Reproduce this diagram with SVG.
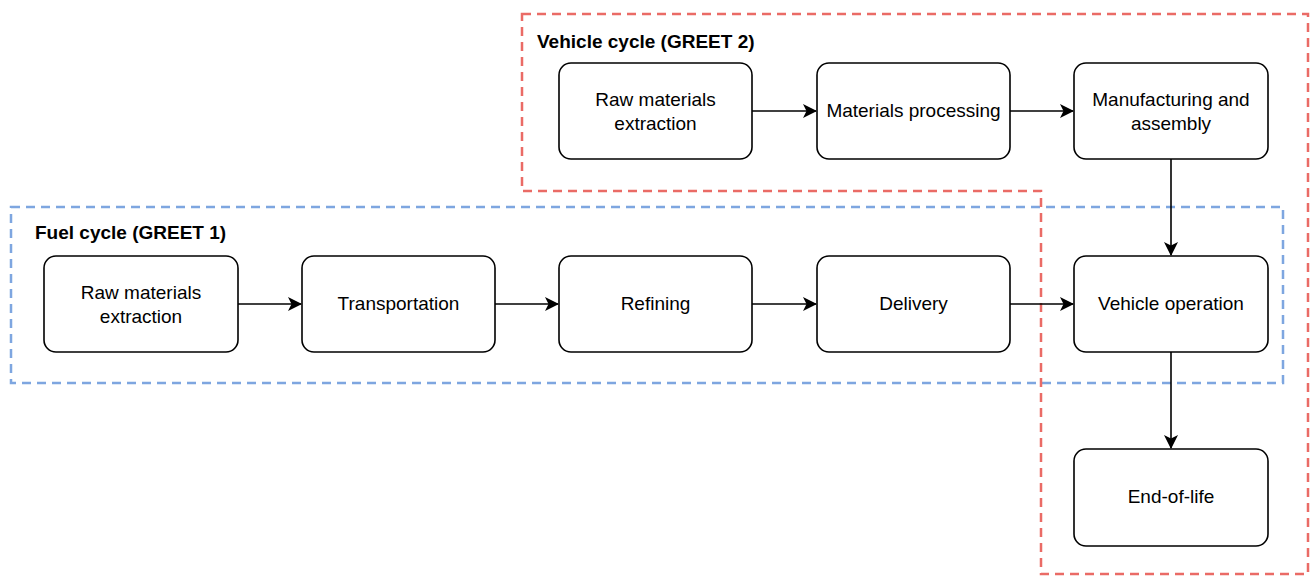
<svg xmlns="http://www.w3.org/2000/svg" width="1311" height="576" viewBox="0 0 1311 576">
<style>
.node rect{fill:#fff;stroke:#000;stroke-width:1.6}
.node text{font-family:"Liberation Sans",Arial,sans-serif;font-size:19px;fill:#000;text-anchor:middle}
.title{font-family:"Liberation Sans",Arial,sans-serif;font-size:19px;font-weight:bold;fill:#000}
.edge{stroke:#000;stroke-width:1.6;fill:none;marker-end:url(#arr)}
.group{fill:none;stroke-width:2.5;stroke-dasharray:9 6}
</style>
<defs>
<marker id="arr" viewBox="0 0 14 14" refX="13" refY="7" markerWidth="14" markerHeight="14" markerUnits="userSpaceOnUse" orient="auto">
<path d="M0,0 L14,7 L0,14 L3.5,7 Z" fill="#000"/>
</marker>
</defs>
<rect width="1311" height="576" fill="#fff"/>
<g id="fuel-cycle">
<rect class="group" x="11" y="207" width="1272" height="176" stroke="#7EA6E0"/>
<text class="title" x="35" y="239">Fuel cycle (GREET 1)</text>
</g>
<g id="vehicle-cycle">
<path class="group" d="M522,14 L1308,14 L1308,574 L1041,574 L1041,191 L522,191 Z" stroke="#EA6B66"/>
<text class="title" x="537" y="48">Vehicle cycle (GREET 2)</text>
</g>
<g id="edges">
<path class="edge" d="M752,111 L816,111"/>
<path class="edge" d="M1010,111 L1073,111"/>
<path class="edge" d="M1171,159 L1171,255"/>
<path class="edge" d="M238,304 L301,304"/>
<path class="edge" d="M495,304 L558,304"/>
<path class="edge" d="M752,304 L816,304"/>
<path class="edge" d="M1010,304 L1073,304"/>
<path class="edge" d="M1171,352 L1171,448"/>
</g>
<g id="v-raw" class="node"><rect x="559" y="63" width="193" height="96" rx="12"/><text x="655.5" y="106">Raw materials</text><text x="655.5" y="130">extraction</text></g>
<g id="v-proc" class="node"><rect x="817" y="63" width="193" height="96" rx="12"/><text x="913.5" y="117">Materials processing</text></g>
<g id="v-manu" class="node"><rect x="1074" y="63" width="194" height="96" rx="12"/><text x="1171" y="106">Manufacturing and</text><text x="1171" y="130">assembly</text></g>
<g id="f-raw" class="node"><rect x="44" y="256" width="194" height="96" rx="12"/><text x="141" y="299">Raw materials</text><text x="141" y="323">extraction</text></g>
<g id="f-trans" class="node"><rect x="302" y="256" width="193" height="96" rx="12"/><text x="398.5" y="310">Transportation</text></g>
<g id="f-ref" class="node"><rect x="559" y="256" width="193" height="96" rx="12"/><text x="655.5" y="310">Refining</text></g>
<g id="f-del" class="node"><rect x="817" y="256" width="193" height="96" rx="12"/><text x="913.5" y="310">Delivery</text></g>
<g id="op" class="node"><rect x="1074" y="256" width="194" height="96" rx="12"/><text x="1171" y="310">Vehicle operation</text></g>
<g id="eol" class="node"><rect x="1074" y="449" width="194" height="97" rx="12"/><text x="1171" y="503">End-of-life</text></g>
</svg>
